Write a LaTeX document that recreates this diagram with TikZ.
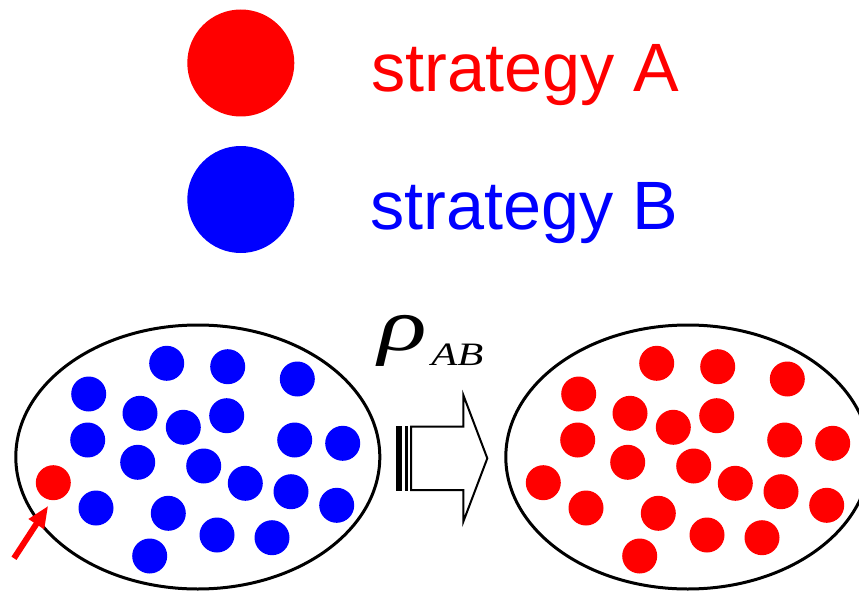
\documentclass[tikz,border=0pt]{standalone}
\usepackage{fontspec}
\setmainfont{Liberation Sans}
\newfontfamily\tnrfont{Liberation Serif}
\usetikzlibrary{arrows.meta,shapes.geometric}
\tikzset{
  dotnode/.style={circle, inner sep=0pt, minimum size=35pt, draw=none},
  legenddot/.style={circle, inner sep=0pt, minimum size=107pt, draw=none},
  popring/.style={draw=black, line width=3pt},
  legendtext/.style={anchor=base west, inner sep=0pt, font=\fontsize{68.4}{80}\selectfont},
  blockarrow/.style={draw=black, line width=2pt, fill=white, line join=miter},
  stripe/.style={fill=black, draw=none},
  markarrow/.style={draw=red, line width=6pt, -{Triangle[length=22pt,width=17pt]}}
}
\begin{document}
\begin{tikzpicture}[x=1pt,y=-1pt]
\useasboundingbox (0,0) rectangle (859,591);
\clip (0,0) rectangle (859,591);
% legend
\node[legenddot, fill=red] (legA) at (240.8,63) {};
\node[legenddot, fill=blue] (legB) at (240.8,199.5) {};
\node[legendtext, text=red] (txtA) at (371.5,91.7) {strategy A};
\node[legendtext, text=blue] (txtB) at (370,229.3) {strategy B};
% populations
\node[popring, ellipse, minimum width=364pt, minimum height=264pt, inner sep=0pt] (popL) at (197.8,457) {};
\node[popring, ellipse, minimum width=364pt, minimum height=264pt, inner sep=0pt] (popR) at (687.8,457) {};
% dots
\foreach \x/\y [count=\i] in {166.7/363.3, 227.7/366.7, 297.3/379, 88.7/394, 140/413.3, 183.3/427.3, 226.7/415.7, 87.7/440, 294.7/440, 342.7/443.3, 137.7/462.3, 203.7/466, 245.3/483.3, 291/491.7, 336.7/505.3, 96/508, 168.3/513.3, 217/535, 272/537.7, 149.7/556}{
  \node[dotnode, fill=blue] (bL\i) at (\x,\y) {};
  \node[dotnode, fill=red] (rR\i) at (\x+490,\y) {};
}
\node[dotnode, fill=red] (mutant) at (53.3,482.7) {};
\node[dotnode, fill=red] (rR21) at (543.3,482.7) {};
% marker arrow
\coordinate (mtail) at (14,558.3);
\coordinate (mtip) at (48.3,505.7);
\draw[markarrow] (mtail) -- (mtip);
% striped block arrow
\fill[stripe] (396,425.7) rectangle (402.3,491);
\fill[stripe] (405,425.7) rectangle (407.6,491);
\draw[blockarrow] (411,426.7) -- (463.3,426.7) -- (463.3,395) -- (487.3,458.3) -- (463.3,521.7) -- (463.3,490) -- (411,490) -- cycle;
\coordinate (arrowtip) at (487.3,458.3);
% rho label
\node[anchor=base west, inner sep=0pt] (rho) at (378,350) {\tnrfont\itshape\scalebox{1.35}[1]{\fontsize{75}{75}\selectfont ρ}\hspace{4.5pt}\raisebox{-15pt}{\scalebox{1.3}[1]{\fontsize{32.7}{34}\selectfont AB}}};
\end{tikzpicture}
\end{document}
